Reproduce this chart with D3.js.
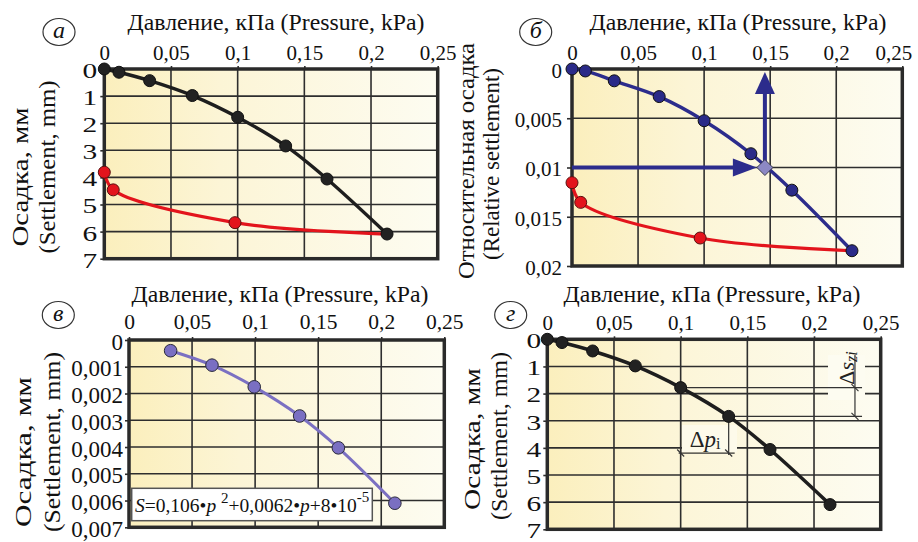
<!DOCTYPE html>
<html>
<head>
<meta charset="utf-8">
<script src="https://cdn.jsdelivr.net/npm/d3@7"></script>
<style>
  body { margin: 0; background: #fff; }
  svg { display: block; }
</style>
</head>
<body>
<svg id="chart" width="918" height="542"></svg>
<script>
// Pressure ticks shared by all four panels
const xTicks = [0, 0.05, 0.1, 0.15, 0.2, 0.25]

// Loading branch (panels а and г), settlement in mm
const pressure = [0, 0.011, 0.034, 0.066, 0.1, 0.136, 0.167, 0.212]
const settlement = [0, 0.12, 0.43, 0.98, 1.78, 2.84, 4.06, 6.09]
// Unloading branch (panel а)
const unloadPressure = [0, 0.0067, 0.098, 0.212]
const unloadSettlement = [3.81, 4.46, 5.67, 6.09]
const mmTicks = [0, 1, 2, 3, 4, 5, 6, 7]

// Relative settlement (panel б)
const relPressure = [0, 0.0101, 0.032, 0.066, 0.1, 0.1354, 0.1664, 0.2119]
const relSettlement = [0, 0.0002, 0.0012, 0.0028, 0.00525, 0.0086, 0.0123, 0.01845]
const relUnloadPressure = [0, 0.0066, 0.097, 0.2119]
const relUnloadSettlement = [0.01154, 0.01354, 0.01716, 0.01845]
const relTicks = [0, 0.005, 0.01, 0.015, 0.02]
const designPoint = { p: 0.146, s: 0.01 }
const arrowTopS = 0.0003

// Fitted curve points (panel в)
const fitPressure = [0.033, 0.0658, 0.0993, 0.1353, 0.166, 0.2108]
const fitSettlement = [0.0004, 0.00094, 0.00175, 0.00284, 0.00403, 0.0061]
const fitTicks = [0, 0.001, 0.002, 0.003, 0.004, 0.005, 0.006, 0.007]

// Step used for the Δp / Δs dimension marks (panel г)
const stepFrom = 4
const stepTo = 5

const fmt = d => String(d).replace(".", ",")
const svg = d3.select("#chart")

const defs = svg.append("defs")
const grad = defs.append("linearGradient").attr("id", "bg")
  .attr("x1", 0).attr("x2", 1).attr("y1", 0).attr("y2", 0)
grad.append("stop").attr("offset", 0).attr("stop-color", "#fbefbd")
grad.append("stop").attr("offset", 0.35).attr("stop-color", "#fcf5d6")
grad.append("stop").attr("offset", 1).attr("stop-color", "#fdfcf1")

function panel(cfg) {
  const x = d3.scaleLinear().domain([0, 0.25]).range([cfg.left, cfg.right])
  const y = d3.scaleLinear().domain([0, cfg.yMax]).range([cfg.top, cfg.bottom])
  const g = svg.append("g")

  g.append("rect")
    .attr("x", cfg.left).attr("y", cfg.top)
    .attr("width", cfg.right - cfg.left).attr("height", cfg.bottom - cfg.top)
    .attr("fill", "url(#bg)")

  // grid
  const grid = g.append("g").attr("stroke", "#2e2e2e").attr("stroke-width", 1.6)
  grid.selectAll(".vx").data(xTicks.slice(1, -1)).join("line")
    .attr("x1", d => x(d)).attr("x2", d => x(d))
    .attr("y1", cfg.top).attr("y2", cfg.bottom)
  grid.selectAll(".hy").data(cfg.yTicks.slice(1, -1)).join("line")
    .attr("x1", cfg.left).attr("x2", cfg.right)
    .attr("y1", d => y(d)).attr("y2", d => y(d))

  // axes
  const yTick = cfg.yTick || 4, yPad = cfg.yPad || 2
  const xa = g.append("g")
    .attr("transform", `translate(0,${cfg.top})`)
    .call(d3.axisTop(x).tickValues(xTicks).tickFormat(fmt).tickSize(3).tickPadding(cfg.xPad || 6))
  const ya = g.append("g")
    .attr("transform", `translate(${cfg.left},0)`)
    .call(d3.axisLeft(y).tickValues(cfg.yTicks).tickFormat(fmt).tickSize(yTick).tickPadding(yPad))
  for (const a of [xa, ya]) {
    a.select(".domain").remove()
    a.selectAll("line").attr("stroke", "#2e2e2e").attr("stroke-width", 1.6)
    a.selectAll("text").attr("fill", "#111")
  }
  xa.selectAll("text").style("font-size", (cfg.xFont || 21) + "px")
  ya.selectAll("text").style("font-size", (cfg.yFont || 21) + "px").attr("dy", "0.4em")
  if (cfg.yStretch) {
    // the original's single-digit labels are drawn noticeably wide
    ya.selectAll("text")
      .attr("x", -(yTick + yPad) / cfg.yStretch)
      .attr("transform", `scale(${cfg.yStretch},1)`)
  }
  if (cfg.lastShift) {
    xa.selectAll("text").filter(d => d === 0.25).attr("dx", cfg.lastShift)
  }

  // frame
  g.append("rect")
    .attr("x", cfg.left).attr("y", cfg.top)
    .attr("width", cfg.right - cfg.left).attr("height", cfg.bottom - cfg.top)
    .attr("fill", "none").attr("stroke", "#2a2a2a").attr("stroke-width", 3.5)

  // x title
  g.append("text")
    .attr("x", cfg.titleX).attr("y", cfg.titleY)
    .attr("text-anchor", "middle").style("font-size", "23.5px").attr("fill", "#111")
    .attr("textLength", 297).attr("lengthAdjust", "spacingAndGlyphs")
    .text("Давление, кПа (Pressure, kPa)")

  // y titles (two rotated lines)
  cfg.yTitles.forEach(t => {
    g.append("text")
      .attr("transform", `translate(${t.x},${t.y}) rotate(-90)`)
      .attr("text-anchor", "middle").style("font-size", "23.5px").attr("fill", "#111")
      .attr("textLength", t.len).attr("lengthAdjust", "spacingAndGlyphs")
      .text(t.text)
  })

  // panel letter
  g.append("ellipse")
    .attr("cx", cfg.label[0]).attr("cy", cfg.label[1]).attr("rx", 16).attr("ry", 13.5)
    .attr("fill", "#fff").attr("stroke", "#333").attr("stroke-width", 1.2)
  g.append("text")
    .attr("x", cfg.label[0]).attr("y", cfg.label[1] + 6)
    .attr("text-anchor", "middle").style("font-size", "24px").attr("font-style", "italic")
    .attr("fill", "#111")
    .text(cfg.letter)

  return { g, x, y }
}

function curve(g, x, y, px, py, color, width) {
  const pts = px.map((p, i) => [x(p), y(py[i])])
  g.append("path")
    .attr("d", d3.line().curve(d3.curveCatmullRom.alpha(0.5))(pts))
    .attr("fill", "none").attr("stroke", color).attr("stroke-width", width)
    .attr("stroke-linecap", "round")
}

function dots(g, x, y, px, py, fill, stroke, r) {
  g.append("g").selectAll("circle").data(px).join("circle")
    .attr("cx", d => x(d)).attr("cy", (d, i) => y(py[i]))
    .attr("r", r).attr("fill", fill).attr("stroke", stroke).attr("stroke-width", 1)
}

// ---- Panel а ----
{
  const { g, x, y } = panel({
    left: 104.3, right: 437.7, top: 69, bottom: 258.7, yMax: 7, yTicks: mmTicks,
    yStretch: 1.4, yPad: 3,
    titleX: 276, titleY: 30, letter: "а", label: [59, 32],
    yTitles: [{ x: 28, y: 177, len: 139, text: "Осадка, мм" }, { x: 55, y: 167, len: 173, text: "(Settlement, mm)" }]
  })
  curve(g, x, y, unloadPressure, unloadSettlement, "#e3141c", 3.2)
  curve(g, x, y, pressure, settlement, "#1e1e1e", 3.4)
  dots(g, x, y, unloadPressure.slice(0, -1), unloadSettlement, "#e3141c", "#5a1010", 6)
  dots(g, x, y, pressure, settlement, "#222", "#111", 6)
}

// ---- Panel б ----
{
  const { g, x, y } = panel({
    left: 572, right: 902.3, top: 69, bottom: 266, yMax: 0.02, yTicks: relTicks,
    yTick: 5, yPad: 5, lastShift: -9,
    titleX: 738, titleY: 30, letter: "б", label: [535.7, 32],
    yTitles: [{ x: 474, y: 161, len: 236, text: "Относительная осадка" }, { x: 499, y: 164, len: 192, text: "(Relative settlement)" }]
  })
  const navy = "#2c2c8c"
  // horizontal arrow to the design point
  const hx = x(designPoint.p) - 8, hy = y(designPoint.s)
  g.append("line").attr("x1", x(0)).attr("x2", hx - 20).attr("y1", hy).attr("y2", hy)
    .attr("stroke", navy).attr("stroke-width", 4)
  g.append("path").attr("d", `M${hx},${hy}L${hx - 24},${hy - 9}L${hx - 24},${hy + 9}Z`).attr("fill", navy)
  // vertical arrow up from the design point
  const vx = x(designPoint.p), vy = y(arrowTopS)
  g.append("line").attr("x1", vx).attr("x2", vx).attr("y1", hy).attr("y2", vy + 18)
    .attr("stroke", navy).attr("stroke-width", 4)
  g.append("path").attr("d", `M${vx},${vy}L${vx - 10},${vy + 22}L${vx + 10},${vy + 22}Z`).attr("fill", navy)

  curve(g, x, y, relUnloadPressure, relUnloadSettlement, "#e3141c", 3.2)
  curve(g, x, y, relPressure, relSettlement, navy, 3.4)
  dots(g, x, y, relUnloadPressure.slice(0, -1), relUnloadSettlement, "#e3141c", "#5a1010", 6)
  dots(g, x, y, relPressure, relSettlement, "#2a2a88", "#111", 6)
  const dx = x(designPoint.p), dy = y(designPoint.s)
  g.append("path").attr("d", `M${dx},${dy - 8}L${dx + 8},${dy}L${dx},${dy + 8}L${dx - 8},${dy}Z`)
    .attr("fill", "#8c88c4").attr("stroke", "#3a3a4a").attr("stroke-width", 1)
}

// ---- Panel в ----
{
  const { g, x, y } = panel({
    left: 129, right: 444.3, top: 340, bottom: 527.3, yMax: 0.007, yTicks: fitTicks,
    xPad: 8, yFont: 23, xFont: 21.5,
    titleX: 280, titleY: 301.7, letter: "в", label: [58.3, 315],
    yTitles: [{ x: 31, y: 452, len: 150, text: "Осадка, мм" }, { x: 60, y: 442, len: 180, text: "(Settlement, mm)" }]
  })
  curve(g, x, y, fitPressure, fitSettlement, "#7b70c2", 3)
  dots(g, x, y, fitPressure, fitSettlement, "#7a6fc2", "#2a2a3a", 6.3)

  // equation box
  g.append("rect").attr("x", 131.7).attr("y", 488.3).attr("width", 240.6).attr("height", 32.4)
    .attr("fill", "#fff").attr("stroke", "#555").attr("stroke-width", 1.5)
  const eq = g.append("text").attr("x", 135).attr("y", 512).style("font-size", "19.5px").attr("fill", "#111")
  eq.append("tspan").attr("font-style", "italic").text("S")
  eq.append("tspan").text("=0,106•")
  eq.append("tspan").attr("font-style", "italic").text("p ")
  eq.append("tspan").attr("dy", -9).style("font-size", "15px").text("2")
  eq.append("tspan").attr("dy", 9).text("+0,0062•")
  eq.append("tspan").attr("font-style", "italic").text("p")
  eq.append("tspan").text("+8•10")
  eq.append("tspan").attr("dy", -10).style("font-size", "15px").text("-5")
}

// ---- Panel г ----
{
  const { g, x, y } = panel({
    left: 547.3, right: 880.7, top: 339.3, bottom: 529.3, yMax: 7, yTicks: mmTicks,
    yStretch: 1.4, yPad: 2,
    titleX: 712, titleY: 301.7, letter: "г", label: [510.7, 315],
    yTitles: [{ x: 480, y: 439, len: 142, text: "Осадка, мм" }, { x: 507, y: 436, len: 168, text: "(Settlement, mm)" }]
  })
  const p1 = pressure[stepFrom], p2 = pressure[stepTo]
  const s1 = settlement[stepFrom], s2 = settlement[stepTo]
  const ann = g.append("g").attr("stroke", "#333").attr("stroke-width", 1.2)
  // pale patches behind the labels
  ann.append("rect").attr("x", 828).attr("y", 355).attr("width", 37).attr("height", 45)
    .attr("fill", "#fdfcf1").attr("stroke", "none")
  ann.append("rect").attr("x", 682).attr("y", 425).attr("width", 55).attr("height", 27)
    .attr("fill", "#fdfaea").attr("stroke", "none")
  // Δs extension and dimension lines
  const ex = x(0.236), dimX = x(0.2307)
  ann.append("line").attr("x1", x(p1)).attr("x2", ex).attr("y1", y(s1)).attr("y2", y(s1))
  ann.append("line").attr("x1", x(p2)).attr("x2", ex).attr("y1", y(s2)).attr("y2", y(s2))
  ann.append("line").attr("x1", dimX).attr("x2", dimX).attr("y1", y(0.58)).attr("y2", y(s2))
  // Δp extension and dimension lines
  const ey = y(4.26), dimY = y(4.19)
  ann.append("line").attr("x1", x(p1)).attr("x2", x(p1)).attr("y1", y(s1)).attr("y2", ey)
  ann.append("line").attr("x1", x(p2)).attr("x2", x(p2)).attr("y1", y(s2)).attr("y2", ey)
  ann.append("line").attr("x1", x(p1) - 2).attr("x2", x(p2) + 6).attr("y1", dimY).attr("y2", dimY)
  // slash ticks
  const slashes = [[dimX, y(s1)], [dimX, y(s2)], [x(p1), dimY], [x(p2), dimY]]
  ann.selectAll(".sl").data(slashes).join("line")
    .attr("x1", d => d[0] - 3.5).attr("y1", d => d[1] - 3.5)
    .attr("x2", d => d[0] + 3.5).attr("y2", d => d[1] + 3.5)

  const ds = g.append("text")
    .attr("transform", `translate(${dimX - 1},368) rotate(-90)`)
    .attr("text-anchor", "middle").style("font-size", "22px").attr("fill", "#222")
  ds.append("tspan").text("Δ")
  ds.append("tspan").attr("font-style", "italic").text("s")
  ds.append("tspan").attr("font-style", "italic").style("font-size", "16px").attr("dy", 3).text("zi")

  const dp = g.append("text").attr("x", 705).attr("y", 447)
    .attr("text-anchor", "middle").style("font-size", "23px").attr("fill", "#222")
  dp.append("tspan").text("Δ")
  dp.append("tspan").attr("font-style", "italic").text("p")
  dp.append("tspan").style("font-size", "16px").attr("dy", 2).text("i")

  curve(g, x, y, pressure, settlement, "#1e1e1e", 3.6)
  dots(g, x, y, pressure, settlement, "#222", "#111", 6)
}

// serif face for every label, set inline so nothing overrides it
svg.selectAll("text").style("font-family", "Liberation Serif")
</script>
</body>
</html>
